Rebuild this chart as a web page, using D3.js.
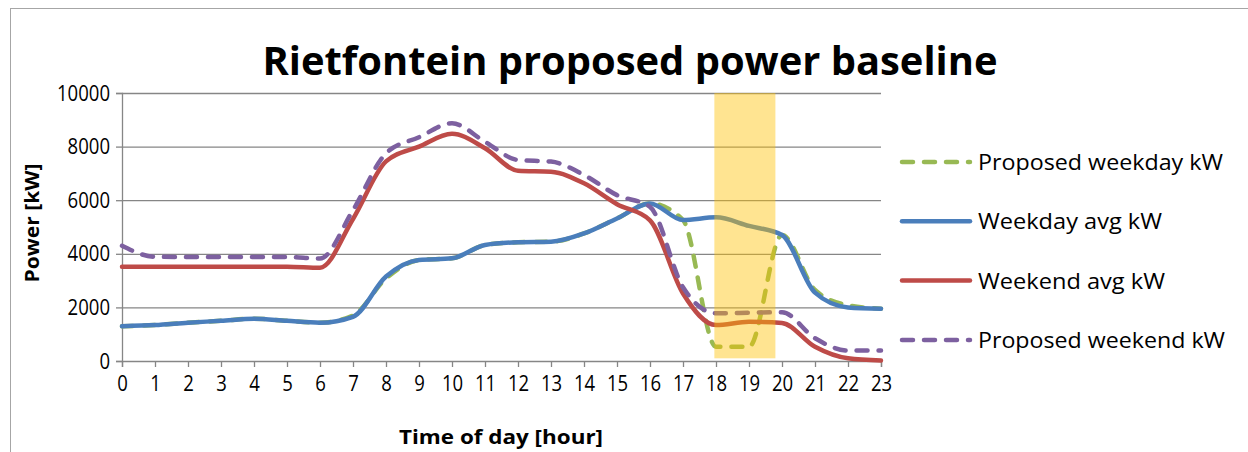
<!DOCTYPE html>
<html>
<head>
<meta charset="utf-8">
<script src="https://cdn.jsdelivr.net/npm/d3@7"></script>
<style>
  body { margin: 0; background: #fff; }
  text { font-family: "Open Sans", "Noto Sans", sans-serif; fill: #000; }
</style>
</head>
<body>
<svg id="chart" width="1248" height="452"></svg>
<script>
// hours of the day
const hours = [0, 1, 2, 3, 4, 5, 6, 7, 8, 9, 10, 11, 12, 13, 14, 15, 16, 17, 18, 19, 20, 21, 22, 23];

const proposedWeekday = [1300, 1340, 1430, 1500, 1580, 1500, 1430, 1700, 3080, 3770, 3830, 4330, 4430, 4450, 4760, 5320, 5880, 5260, 530, 530, 4700, 2650, 2080, 1950];
const weekdayAvg = [1300, 1340, 1430, 1500, 1580, 1500, 1430, 1650, 3150, 3770, 3830, 4330, 4430, 4450, 4760, 5320, 5880, 5260, 5360, 5040, 4700, 2550, 2000, 1950];
const weekendAvg = [3520, 3520, 3520, 3520, 3520, 3520, 3480, 5300, 7450, 8000, 8480, 7940, 7100, 7060, 6630, 5850, 5250, 2520, 1340, 1460, 1420, 530, 100, 20];
const proposedWeekend = [4300, 3890, 3880, 3880, 3880, 3880, 3820, 5630, 7750, 8350, 8870, 8180, 7500, 7440, 6940, 6190, 5750, 2750, 1780, 1800, 1820, 850, 390, 390];

const yTicks = [0, 2000, 4000, 6000, 8000, 10000];
// peak window (hours) and its power span
const peakHours = [17.95, 19.8];
const peakPower = [100, 10000];

const series = [
  { name: "Proposed weekday kW", values: proposedWeekday, color: "#98B954", dash: "11,11" },
  { name: "Weekday avg kW", values: weekdayAvg, color: "#4A7EBB", dash: null },
  { name: "Weekend avg kW", values: weekendAvg, color: "#BE4B48", dash: null },
  { name: "Proposed weekend kW", values: proposedWeekend, color: "#7D60A0", dash: "11,11" },
];

const margin = { top: 93, right: 367, bottom: 91, left: 122 };
const width = 1248 - margin.left - margin.right;
const height = 452 - margin.top - margin.bottom;

const svg = d3.select("#chart");

// outer chart border
svg.append("rect")
  .attr("x", 10.5).attr("y", 8.5)
  .attr("width", 1260).attr("height", 470)
  .attr("fill", "none").attr("stroke", "#a6a6a6").attr("stroke-width", 1);

// title
svg.append("text")
  .attr("x", 630).attr("y", 75)
  .attr("text-anchor", "middle")
  .style("font-size", "40px").style("font-weight", "bold")
  .attr("textLength", 735).attr("lengthAdjust", "spacingAndGlyphs")
  .text("Rietfontein proposed power baseline");

const g = svg.append("g")
  .attr("transform", `translate(${margin.left},${margin.top})`);

const x = d3.scaleLinear().domain([0, 23]).range([0, width]);
const y = d3.scaleLinear().domain([0, 10000]).range([height, 0]);

// gridlines
g.append("g")
  .selectAll("line")
  .data(yTicks.slice(1))
  .join("line")
  .attr("x1", 0).attr("x2", width)
  .attr("y1", (d) => y(d) + 0.5).attr("y2", (d) => y(d) + 0.5)
  .attr("stroke", "#868686").attr("stroke-width", 1.3);

// y axis
const yAxis = g.append("g")
  .call(d3.axisLeft(y).tickValues(yTicks).tickSize(6).tickPadding(6).tickFormat(d3.format("d")));
yAxis.select(".domain").attr("stroke", "#868686").attr("stroke-width", 1.3);
yAxis.selectAll(".tick line").attr("stroke", "#868686").attr("stroke-width", 1.3);
yAxis.selectAll("text").style("font-size", "22px").attr("fill", "#000")
  .attr("textLength", (d) => String(d).length * 10.6).attr("lengthAdjust", "spacingAndGlyphs");

// x axis
const xAxis = g.append("g")
  .attr("transform", `translate(0,${height})`)
  .call(d3.axisBottom(x).tickValues(hours).tickSize(6).tickPadding(8).tickFormat(d3.format("d")));
xAxis.select(".domain").attr("stroke", "#868686").attr("stroke-width", 1.3);
xAxis.selectAll(".tick line").attr("stroke", "#868686").attr("stroke-width", 1.3);
xAxis.selectAll("text").style("font-size", "22px").attr("fill", "#000")
  .attr("textLength", (d) => String(d).length * 10.6).attr("lengthAdjust", "spacingAndGlyphs");

// axis titles
svg.append("text")
  .attr("x", 501).attr("y", 444)
  .attr("text-anchor", "middle")
  .style("font-size", "20px").style("font-weight", "bold")
  .attr("textLength", 204).attr("lengthAdjust", "spacingAndGlyphs")
  .text("Time of day [hour]");

svg.append("text")
  .attr("transform", "translate(39,223) rotate(-90)")
  .attr("text-anchor", "middle")
  .style("font-size", "20px").style("font-weight", "bold")
  .attr("textLength", 119).attr("lengthAdjust", "spacingAndGlyphs")
  .text("Power [kW]");

// lines
const line = d3.line()
  .x((d, i) => x(hours[i]))
  .y((d) => y(d))
  .curve(d3.curveMonotoneX);

g.append("g")
  .selectAll("path")
  .data(series)
  .join("path")
  .attr("d", (d) => line(d.values))
  .attr("fill", "none")
  .attr("stroke", (d) => d.color)
  .attr("stroke-width", 4.5)
  .attr("stroke-linecap", "round")
  .attr("stroke-linejoin", "round")
  .attr("stroke-dasharray", (d) => d.dash);

// peak window highlight on top
g.append("rect")
  .attr("x", x(peakHours[0]))
  .attr("width", x(peakHours[1]) - x(peakHours[0]))
  .attr("y", y(peakPower[1]))
  .attr("height", y(peakPower[0]) - y(peakPower[1]))
  .attr("fill", "#FFC000")
  .attr("fill-opacity", 0.43);

// legend
const legendWidths = [245, 184, 187, 247];
const legend = svg.append("g")
  .selectAll("g")
  .data(series)
  .join("g")
  .attr("transform", (d, i) => `translate(900,${162 + i * 59.3})`);

legend.append("line")
  .attr("x1", 2).attr("x2", 70)
  .attr("stroke", (d) => d.color)
  .attr("stroke-width", 4.5)
  .attr("stroke-linecap", "round")
  .attr("stroke-dasharray", (d) => d.dash);

legend.append("text")
  .attr("x", 78).attr("y", 8)
  .style("font-size", "22px")
  .attr("textLength", (d, i) => legendWidths[i])
  .attr("lengthAdjust", "spacingAndGlyphs")
  .text((d) => d.name);
</script>
</body>
</html>
